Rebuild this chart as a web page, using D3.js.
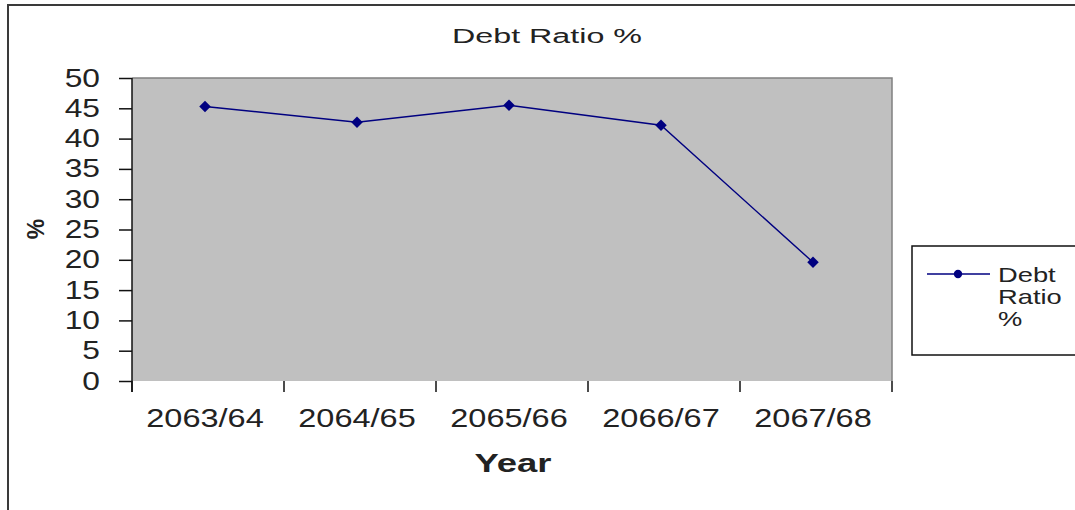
<!DOCTYPE html>
<html>
<head>
<meta charset="utf-8">
<script src="https://cdn.jsdelivr.net/npm/d3@7"></script>
<style>
  html, body { margin: 0; padding: 0; background: #fff; }
  svg { display: block; }
  text { font-family: "Liberation Sans", Arial, sans-serif; fill: #222; }
</style>
</head>
<body>
<svg id="chart" width="1075" height="510"></svg>
<script>
const categories = ["2063/64", "2064/65", "2065/66", "2066/67", "2067/68"];
const debtRatio = [45.3, 42.7, 45.5, 42.2, 19.6];
const yTicks = [0, 5, 10, 15, 20, 25, 30, 35, 40, 45, 50];
const seriesName = ["Debt", "Ratio", "%"];
const chartTitle = "Debt Ratio %";
const xTitle = "Year";
const yTitle = "%";

const svg = d3.select("#chart");
const plot = { left: 132, top: 78, right: 892, bottom: 381 };

function stretch(sel, factor) {
  sel.each(function () {
    const len = this.getComputedTextLength();
    d3.select(this).attr("textLength", len * factor).attr("lengthAdjust", "spacingAndGlyphs");
  });
}

// outer frame
svg.append("rect").attr("x", 8).attr("y", 5).attr("width", 1100).attr("height", 560)
  .attr("fill", "#fff").attr("stroke", "#3a3a3a").attr("stroke-width", 2);

const x = d3.scaleBand().domain(categories).range([plot.left, plot.right]).padding(0);
const y = d3.scaleLinear().domain([0, 50]).range([plot.bottom, plot.top]);

// plot area
svg.append("rect").attr("x", plot.left).attr("y", plot.top)
  .attr("width", plot.right - plot.left).attr("height", plot.bottom - plot.top)
  .attr("fill", "#c0c0c0");
svg.append("path")
  .attr("d", `M${plot.left},${plot.top}H${plot.right}V${plot.bottom}`)
  .attr("fill", "none").attr("stroke", "#808080").attr("stroke-width", 1.5);

// y axis
const yAxis = d3.axisLeft(y).tickValues(yTicks).tickSize(13).tickPadding(19).tickFormat(d3.format("d"));
const gy = svg.append("g").attr("transform", `translate(${plot.left},0)`).call(yAxis);
gy.select(".domain").attr("stroke", "#111").attr("stroke-width", 1.5)
  .attr("d", `M0,${plot.top}V${plot.bottom + 11}`);
gy.selectAll(".tick line").attr("stroke", "#111").attr("stroke-width", 1.5);
gy.selectAll(".tick text").attr("font-size", 25).attr("fill", "#222")
  .style("font-family", "'Liberation Sans', Arial, sans-serif");
stretch(gy.selectAll(".tick text"), 1.27);

// x axis ticks at band boundaries
const boundaries = categories.map(c => x(c)).concat([plot.right]);
svg.append("g").selectAll("line").data(boundaries).join("line")
  .attr("x1", d => d).attr("x2", d => d)
  .attr("y1", plot.bottom).attr("y2", plot.bottom + 11)
  .attr("stroke", "#111").attr("stroke-width", 1.5);

const xl = svg.append("g").selectAll("text").data(categories).join("text")
  .attr("x", d => x(d) + x.bandwidth() / 2 - 3)
  .attr("y", 427)
  .attr("text-anchor", "middle").attr("font-size", 25)
  .text(d => d);
stretch(xl, 1.3);

// line + markers
const line = d3.line().x((d, i) => x(categories[i]) + x.bandwidth() / 2 - 3).y(d => y(d));
svg.append("path").datum(debtRatio).attr("d", line)
  .attr("fill", "none").attr("stroke", "#000080").attr("stroke-width", 1.4);
svg.append("g").selectAll("path").data(debtRatio).join("path")
  .attr("transform", (d, i) => `translate(${x(categories[i]) + x.bandwidth() / 2 - 3},${y(d)})`)
  .attr("d", d3.symbol(d3.symbolDiamond2, 85))
  .attr("fill", "#000080");

// title
svg.append("text").attr("x", 547).attr("y", 43).attr("text-anchor", "middle")
  .attr("font-size", 20).attr("fill", "#2a2a2a")
  .attr("textLength", 190).attr("lengthAdjust", "spacingAndGlyphs")
  .text(chartTitle);

// axis titles
svg.append("text").attr("x", 513).attr("y", 472).attr("text-anchor", "middle")
  .attr("font-size", 25).attr("font-weight", "bold")
  .attr("textLength", 77).attr("lengthAdjust", "spacingAndGlyphs")
  .text(xTitle);
svg.append("text").attr("transform", "translate(44,229) rotate(-90)")
  .attr("text-anchor", "middle").attr("font-size", 23).attr("font-weight", "bold")
  .text(yTitle);

// legend
const lg = svg.append("g");
lg.append("rect").attr("x", 912).attr("y", 246).attr("width", 200).attr("height", 109)
  .attr("fill", "#fff").attr("stroke", "#111").attr("stroke-width", 1.5);
lg.append("line").attr("x1", 927).attr("x2", 990).attr("y1", 274).attr("y2", 274)
  .attr("stroke", "#000080").attr("stroke-width", 1.4);
lg.append("path").attr("transform", "translate(958,274)")
  .attr("d", d3.symbol(d3.symbolCircle, 55)).attr("fill", "#000080");
const lt = lg.selectAll("text.leg").data(seriesName).join("text").attr("class", "leg")
  .attr("x", 998).attr("y", (d, i) => 282 + i * 22)
  .attr("font-size", 21).text(d => d);
stretch(lt, 1.3);
</script>
</body>
</html>
